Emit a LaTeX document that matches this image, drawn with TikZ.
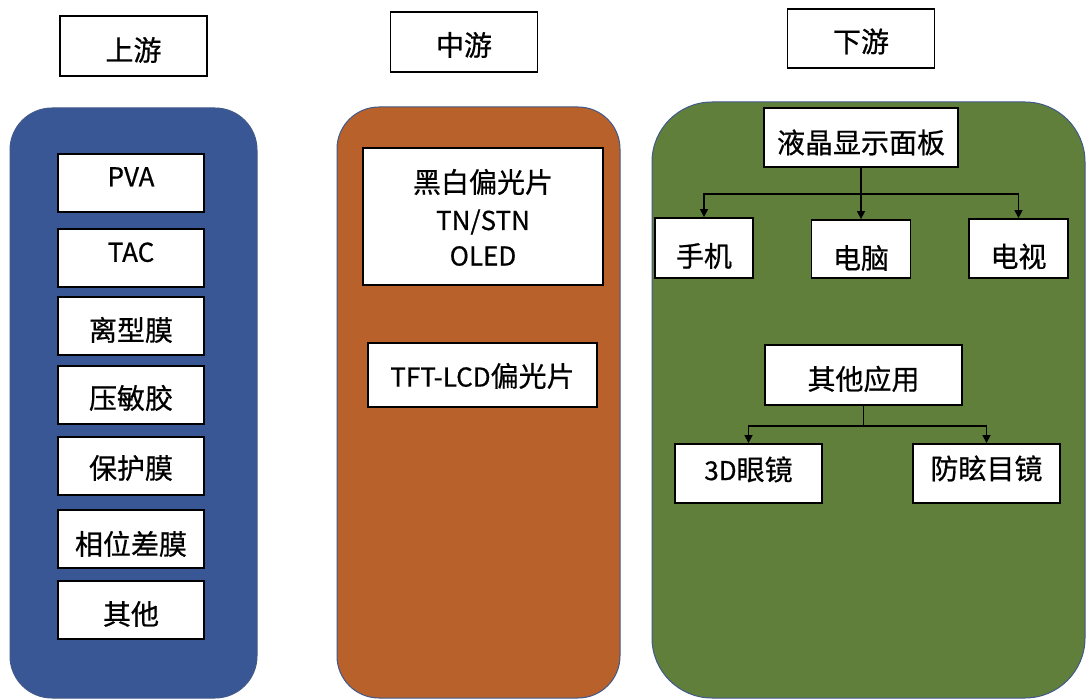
\documentclass[tikz,border=0pt]{standalone}
\usepackage{fontspec}
\setmainfont{Noto Sans CJK SC}[RawFeature={embolden=0.6}]
\usetikzlibrary{arrows.meta}
\definecolor{pblue}{HTML}{3A5795}
\definecolor{porange}{HTML}{B8612B}
\definecolor{pgreen}{HTML}{5F7F3B}
\definecolor{pedge}{HTML}{41598B}
\tikzset{
  panel/.style={draw=pedge, line width=1pt},
  hdr/.style={draw=black, line width=1.5pt, fill=white, minimum width=147pt, minimum height=60pt, inner sep=0pt, font=\fontsize{28}{34}\selectfont},
  box/.style={draw=black, line width=1.8pt, fill=white, inner sep=0pt, font=\fontsize{28}{34}\selectfont},
  lbox/.style={box, minimum width=146pt, minimum height=58pt},
  lat/.style={font=\fontsize{26}{30}\selectfont},
  arr/.style={draw=black, line width=1.5pt, -{Triangle[length=8pt,width=8pt]}},
  ln/.style={draw=black, line width=1.5pt}
}
\begin{document}
\begin{tikzpicture}[x=1pt,y=-1pt]
\useasboundingbox (0,0) rectangle (1088,700);
\fill[white] (0,0) rectangle (1088,700);
% panels
\draw[panel, fill=pblue, rounded corners=42pt] (10,108) rectangle (257,698);
\draw[panel, fill=porange, rounded corners=42pt] (337,107) rectangle (620,698);
\draw[panel, fill=pgreen, rounded corners=60pt] (652,102) rectangle (1085,698);
% headers
\node[hdr, text height=32.6pt, text depth=3.4pt] (up) at (133.5,46) {上游};
\node[hdr, text height=30.6pt, text depth=3.4pt] (mid) at (464,42) {中游};
\node[hdr, minimum height=59pt, text height=30.6pt, text depth=3.4pt] (down) at (861,38.5) {下游};
% upstream
\node[lbox, lat, text height=18.6pt, text depth=12pt] (pva) at (131,183) {PVA};
\node[lbox, lat, text height=18.6pt, text depth=11pt] (tac) at (131,258) {TAC};
\node[lbox, text height=32.6pt, text depth=3.4pt] (lxm) at (131,326) {离型膜};
\node[lbox, text height=30.6pt, text depth=3.4pt] (ymj) at (131,395) {压敏胶};
\node[lbox, text height=28.6pt, text depth=3.4pt] (bhm) at (131,466) {保护膜};
\node[lbox, text height=34.6pt, text depth=3.4pt] (xwc) at (131,539) {相位差膜};
\node[lbox, text height=32.6pt, text depth=3.4pt] (qt) at (131,610) {其他};
% midstream
\node[box, minimum width=240pt, minimum height=137pt] (bw) at (483,216.5) {};
\node (bwt) at (483,182) {\fontsize{28}{34}\selectfont 黑白偏光片};
\node (tn) at (483,222) {\fontsize{26}{30}\selectfont TN/STN};
\node (oled) at (483,256) {\fontsize{26}{30}\selectfont OLED};
\node[box, minimum width=229pt, minimum height=64pt, text height=26.6pt, text depth=3.4pt] (tft) at (482.5,375) {{\fontsize{26}{30}\selectfont TFT-LCD}偏光片};
% downstream
\node[box, minimum width=194pt, minimum height=59pt, text height=34.6pt, text depth=3.4pt] (lcd) at (861,137.5) {液晶显示面板};
\node[box, minimum width=98pt, minimum height=60pt, text height=40.6pt, text depth=3.4pt] (phone) at (704,248) {手机};
\node[box, minimum width=99pt, minimum height=58pt, text height=42.6pt, text depth=3.4pt] (pc) at (861,249) {电脑};
\node[box, minimum width=99pt, minimum height=59pt, text height=40.6pt, text depth=3.4pt] (tv) at (1018.5,248.5) {电视};
\node[box, minimum width=197pt, minimum height=60pt, text height=32.6pt, text depth=3.4pt] (oth) at (863.5,375) {其他应用};
\node[box, minimum width=147pt, minimum height=59pt, text height=16.6pt, text depth=3.4pt] (g3d) at (748.5,473.5) {{\fontsize{26}{30}\selectfont 3D}眼镜};
\node[box, minimum width=147pt, minimum height=59pt, text height=14.6pt, text depth=3.4pt] (fxm) at (986.5,473.5) {防眩目镜};
% connectors
\draw[arr] (lcd.south) -- (pc.north);
\draw[arr] (lcd.south) -- ++(0,26) -| (phone.north);
\draw[arr] (lcd.south) -- ++(0,26) -| (tv.north);
\draw[ln] (oth.south) -- ++(0,20) coordinate (j2);
\draw[arr] (j2) -| (g3d.north);
\draw[arr] (j2) -| (fxm.north);
\end{tikzpicture}
\end{document}
